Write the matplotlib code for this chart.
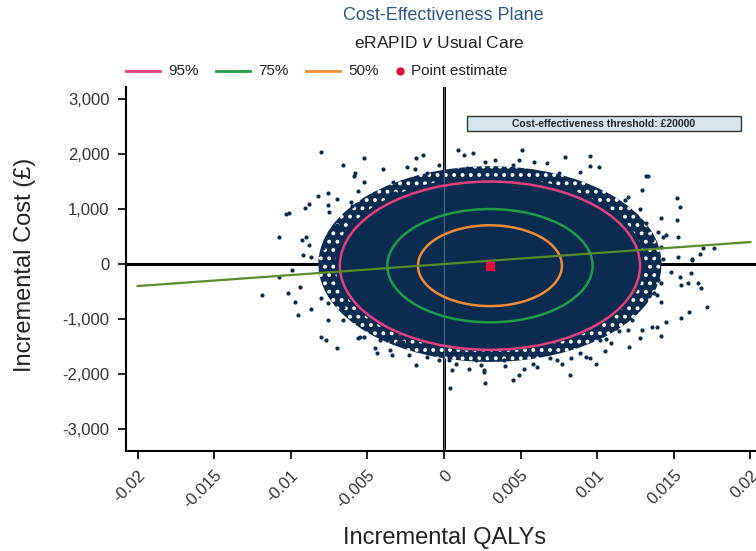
import numpy as np
import matplotlib
matplotlib.use("Agg")
import matplotlib.pyplot as plt
from matplotlib.patches import Ellipse, Rectangle

plt.rcParams['font.family'] = ['Liberation Sans', 'DejaVu Sans']
plt.rcParams['hatch.linewidth'] = 1.6

# bootstrap replicates outside the dense core (incremental QALYs, incremental cost)
qalys = [
    -0.0080, -0.0066, -0.0052, -0.0058, -0.0059, -0.0040, -0.0052, -0.0056, -0.0076, -0.0082,
    -0.0070, -0.0088, -0.0091, -0.0076, -0.0101, -0.0103, -0.0075, -0.0061, -0.0060, -0.0064,
    -0.0070, -0.0068, -0.0108, -0.0093, -0.0088, -0.0090, -0.0079, -0.0092, -0.0087, -0.0033,
    -0.0024, -0.0019, -0.0018, -0.0014, -0.0032, -0.0020, -0.0011, -0.0003, -0.0099, -0.0108,
    -0.0094, -0.0074, 0.0009, 0.0013, 0.0019, 0.0015, 0.0027, 0.0033,
    0.0051, 0.0079, 0.0095, 0.0045, 0.0049, 0.0059, 0.0067, 0.0095, 0.0101, 0.0132,
    0.0075, 0.0089, 0.0129, 0.0152, 0.0118, 0.0120, 0.0154, 0.0128, 0.0142, 0.0152,
    0.0132, 0.0133, 0.0143, 0.0145, 0.0153, 0.0136, 0.0142, 0.0169, 0.0176, 0.0136,
    0.0143, 0.0153, 0.0162, 0.0167, 0.0135, 0.0148, 0.0154, 0.0161, 0.0166, 0.0168,
    0.0155, 0.0159, 0.0172, 0.0142, 0.0160, 0.0155, 0.0145, 0.0136, 0.0139, 0.0123,
    0.0129, 0.0142, 0.0128, 0.0120, 0.0112, 0.0114, 0.0102, 0.0106, 0.0109, 0.0105,
    0.0121, 0.0099, 0.0089, 0.0093, 0.0095, 0.0083, 0.0082, 0.0074, 0.0077, 0.0069,
    0.0061, 0.0058, 0.0052, 0.0049, 0.0045, 0.0040, 0.0039, 0.0030, 0.0027, 0.0026,
    0.0042, -0.0119, -0.0102, -0.0097, -0.0095, -0.0087, -0.0080, -0.0076, -0.0076, -0.0080,
    -0.0077, -0.0070, -0.0068, -0.0066, -0.0066, -0.0056, -0.0055, -0.0052, -0.0045, -0.0044,
    -0.0035, -0.0034, -0.0042, -0.0037, -0.0031, -0.0027, -0.0023, -0.0018, -0.0011, -0.0015,
    -0.0004, 0.0003, 0.0005, 0.0004, -0.0003, 0.0008, 0.0016, 0.0021, 0.0024, 0.0026,
    0.0017, 0.0012, 0.0133, 0.0140, 0.0162, 0.0140, 0.0142, 0.0137, 0.0139,
]
costs = [
    2040, 1800, 1920, 1650, 1600, 1730, 1490, 1330, 1290, 1240,
    1190, 1090, 1020, 1070, 930, 910, 950, 1130, 1050, 920,
    710, 620, 490, 440, 350, 490, 300, 160, 130, 1500,
    1770, 1720, 1920, 1980, 1290, 1530, 1660, 1800, -110, -230,
    -410, -400, 2070, 1980, 2020, 1740, 1860, 1890,
    2070, 1950, 1960, 1800, 1900, 1860, 1830, 1780, 1770, 1600,
    1660, 1680, 1350, 1210, 1160, 1220, 1040, 1010, 830, 810,
    740, 620, 500, 530, 490, 440, 310, 290, 290, 160,
    100, 120, 100, 190, -140, -140, -230, -170, -350, -440,
    -380, -340, -790, -690, -880, -990, -1060, -1140, -1150, -1020,
    -1200, -1310, -1350, -1200, -1170, -1210, -1380, -1370, -1430, -1580,
    -1510, -1810, -1620, -1690, -1710, -1710, -2020, -1750, -1810, -1710,
    -1870, -1810, -1900, -2020, -2100, -1850, -1750, -1690, -2160, -1930,
    -1690, -560, -520, -690, -930, -820, -620, -710, -1010, -1320,
    -1380, -1530, -560, -780, -1020, -1350, -1320, -1320, -1530, -1620,
    -1560, -1650, -1380, -1380, -1440, -1410, -1650, -1840, -1690, -1530,
    -1620, -1750, -1930, -2260, -1750, -1810, -1900, -1750, -1840, -1960,
    -1530, -1500, 1610, 590, 70, -290, -350, -530, -560,
]

# point estimate and confidence ellipses (half-widths in QALYs, half-heights in £)
point_qaly = 0.0030
point_cost = -30
core_half = (0.0101, 1590)      # solid part of the cloud
fringe_half = (0.0112, 1780)    # speckled edge of the cloud
ellipse_labels = ['95%', '75%', '50%']
ellipse_half_w = [0.0098, 0.0067, 0.0047]
ellipse_half_h = [1530, 1030, 735]
ellipse_colors = ['#e5407c', '#1e9e48', '#f08c33']
point_color = '#e3103d'

threshold = 20000
qaly_ticks = [-0.02, -0.015, -0.01, -0.005, 0, 0.005, 0.01, 0.015, 0.02]
qaly_tick_labels = ['-0.02', '-0.015', '-0.01', '-0.005', '0', '0.005', '0.01', '0.015', '0.02']
cost_ticks = [-3000, -2000, -1000, 0, 1000, 2000, 3000]

navy = '#0b2b50'
W, H = 756, 551

fig = plt.figure(figsize=(7.56, 5.51), dpi=100)
ax = fig.add_axes([0.1667, 0.1815, 0.8333, 0.6606])

# quadrant lines
ax.axhline(0, color='black', lw=2.2, zorder=1)
ax.axvline(0, color='black', lw=2.2, zorder=1)

# dense cloud of bootstrap replicates
ax.add_patch(Ellipse((point_qaly, 0), 2 * fringe_half[0], 2 * fringe_half[1],
                     facecolor=navy, edgecolor='white', lw=0, hatch='..', zorder=2))
ax.add_patch(Ellipse((point_qaly, 0), 2 * core_half[0], 2 * core_half[1],
                     facecolor=navy, edgecolor='none', zorder=2))
ax.scatter(qalys, costs, s=9, color=navy, linewidths=0, zorder=2)
ax.axvline(0, color='#4d6680', lw=0.8, zorder=2.5)

# threshold line
tx = np.array([-0.02, 0.02])
ax.plot(tx, tx * threshold, color='#5a8c2a', lw=1.6, zorder=4)

for hw, hh, col in zip(ellipse_half_w, ellipse_half_h, ellipse_colors):
    ax.add_patch(Ellipse((point_qaly, point_cost), 2 * hw, 2 * hh, fill=False,
                         edgecolor=col, lw=1.8, zorder=3))

ax.plot(point_qaly, point_cost, 's', color=point_color, ms=6, zorder=5)

# threshold label box
ax.add_patch(Rectangle((0.0015, 2420), 0.0179, 270, facecolor='#d5e6f0',
                       edgecolor='#333333', lw=1.0, zorder=4))
ax.text(0.01045, 2555, 'Cost-effectiveness threshold: £20000', ha='center', va='center',
        fontsize=7.5, fontweight='bold', color='#222222', zorder=5)

ax.set_xlim(-0.02076, 0.02037)
ax.set_ylim(-3400, 3220)
ax.set_xticks(qaly_ticks)
ax.set_xticklabels(qaly_tick_labels, rotation=45, ha='right', rotation_mode='anchor')
ax.set_yticks(cost_ticks)
ax.set_yticklabels([f'{v:,}' for v in cost_ticks])
ax.tick_params(axis='both', direction='out', length=6, width=1.2, labelsize=12,
               labelcolor='#333333')
ax.tick_params(axis='y', pad=6)
ax.tick_params(axis='x', pad=6)
for side in ['top', 'right']:
    ax.spines[side].set_visible(False)
for side in ['left', 'bottom']:
    ax.spines[side].set_linewidth(1.5)

fig.text(0.033, 0.519, 'Incremental Cost (£)', rotation=90, ha='center', va='center',
         fontsize=17, color='#222222')
fig.text(0.588, 0.024, 'Incremental QALYs', ha='center', va='center',
         fontsize=17, color='#222222')

fig.text(0.586, 1 - 15 / H, 'Cost-Effectiveness Plane', ha='center', va='center',
         fontsize=13, color='#2f5888')
fig.text(0.581, 1 - 43 / H, r'eRAPID $\mathit{v}$ Usual Care', ha='center', va='center',
         fontsize=12.5, color='#222222')

# legend row drawn by hand so the marker entry sits close to its text
legend_y = 1 - 71 / H
line_starts = [126, 216, 306]
for x0, col, lab in zip(line_starts, ellipse_colors, ellipse_labels):
    fig.add_artist(plt.Line2D([x0 / W, (x0 + 34) / W], [legend_y, legend_y],
                              color=col, lw=2, transform=fig.transFigure))
    fig.text((x0 + 42) / W, legend_y, lab, ha='left', va='center', fontsize=11,
             color='#222222')
fig.add_artist(plt.Line2D([400 / W], [legend_y], marker='o', ms=5, ls='none',
                          color=point_color, transform=fig.transFigure))
fig.text(411 / W, legend_y, 'Point estimate', ha='left', va='center', fontsize=11,
         color='#222222')

fig.savefig('out.png', dpi=100)
